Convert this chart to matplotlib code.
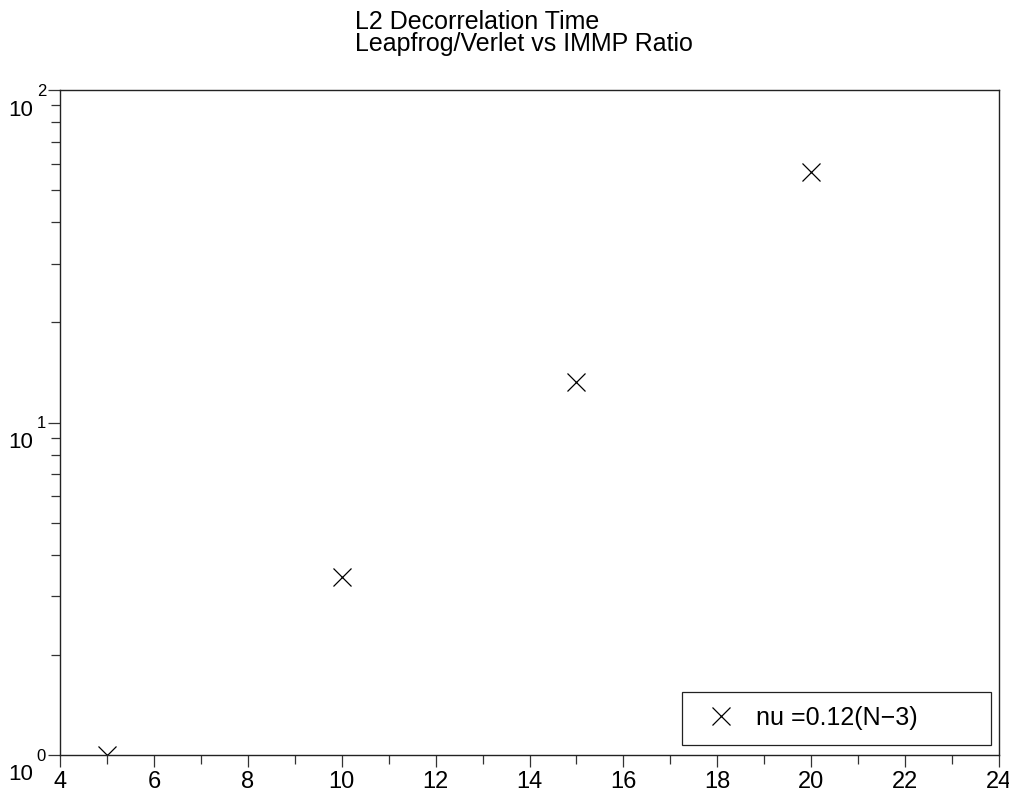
import matplotlib
matplotlib.use("Agg")
import matplotlib.pyplot as plt
from matplotlib.ticker import MultipleLocator, LogLocator, NullFormatter
from matplotlib.patches import Rectangle

plt.rcParams['font.family'] = ['Liberation Sans', 'DejaVu Sans']

# Data
N_values = [5, 10, 15, 20]
ratio_values = [1.0, 3.44, 13.2, 56.8]
series_label = "nu =0.12(N\u22123)"
title_lines = ["L2 Decorrelation Time", "Leapfrog/Verlet vs IMMP Ratio"]
x_ticks = [4, 6, 8, 10, 12, 14, 16, 18, 20, 22, 24]
y_decades = [0, 1, 2]

W, H = 1009, 791
fig = plt.figure(figsize=(W / 100, H / 100), dpi=100)
ax = fig.add_axes([60 / W, (H - 755) / H, (999 - 60) / W, (755 - 90) / H])

ax.plot(N_values, ratio_values, linestyle='none', marker='x', color='black',
        markersize=13, markeredgewidth=0.9, label=series_label)

ax.set_yscale('log')
ax.set_xlim(4, 24)
ax.set_ylim(10 ** y_decades[0], 10 ** y_decades[-1])

ax.set_xticks(x_ticks)
ax.set_xticklabels([str(t) for t in x_ticks], fontsize=17)
ax.xaxis.set_minor_locator(MultipleLocator(1))
ax.yaxis.set_major_locator(LogLocator(base=10))
ax.yaxis.set_minor_locator(LogLocator(base=10, subs=range(2, 10)))
ax.yaxis.set_major_formatter(NullFormatter())
ax.yaxis.set_minor_formatter(NullFormatter())

ax.tick_params(axis='both', which='major', direction='out', length=8.6, width=0.9,
               color='#333333', pad=3, top=False, right=False)
ax.tick_params(axis='both', which='minor', direction='out', length=6.3, width=0.9,
               color='#333333', top=False, right=False)
for sp in ax.spines.values():
    sp.set_linewidth(1.0)
    sp.set_color('#222222')

# y tick labels as 10^k with offset superscript
for k in y_decades:
    ax.annotate("10", xy=(0, 10 ** k), xycoords=('axes fraction', 'data'),
                xytext=(-19.4, -14.4), textcoords='offset points',
                ha='right', va='center', fontsize=16)
    ax.annotate(str(k), xy=(0, 10 ** k), xycoords=('axes fraction', 'data'),
                xytext=(-16.8, -1.0), textcoords='offset points',
                ha='left', va='center', fontsize=12)

# Legend
aw, ah = 939, 665
ax.add_patch(Rectangle(((682 - 60) / aw, (755 - 745) / ah),
                       (991 - 682) / aw, (745 - 692) / ah,
                       transform=ax.transAxes, fill=False, edgecolor='#222222',
                       linewidth=0.9, zorder=5))
leg = ax.legend(loc='center left', bbox_to_anchor=((697.5 - 60) / aw, (755 - 718) / ah),
                frameon=False, fontsize=18, handlelength=1.9, handletextpad=0.45,
                borderpad=0, borderaxespad=0, numpoints=1)

# Title
fig.text(355 / W, 1 - 29 / H, title_lines[0], ha='left', va='baseline', fontsize=18)
fig.text(355 / W, 1 - 51 / H, title_lines[1], ha='left', va='baseline', fontsize=18)

fig.savefig("out.png", dpi=100)
